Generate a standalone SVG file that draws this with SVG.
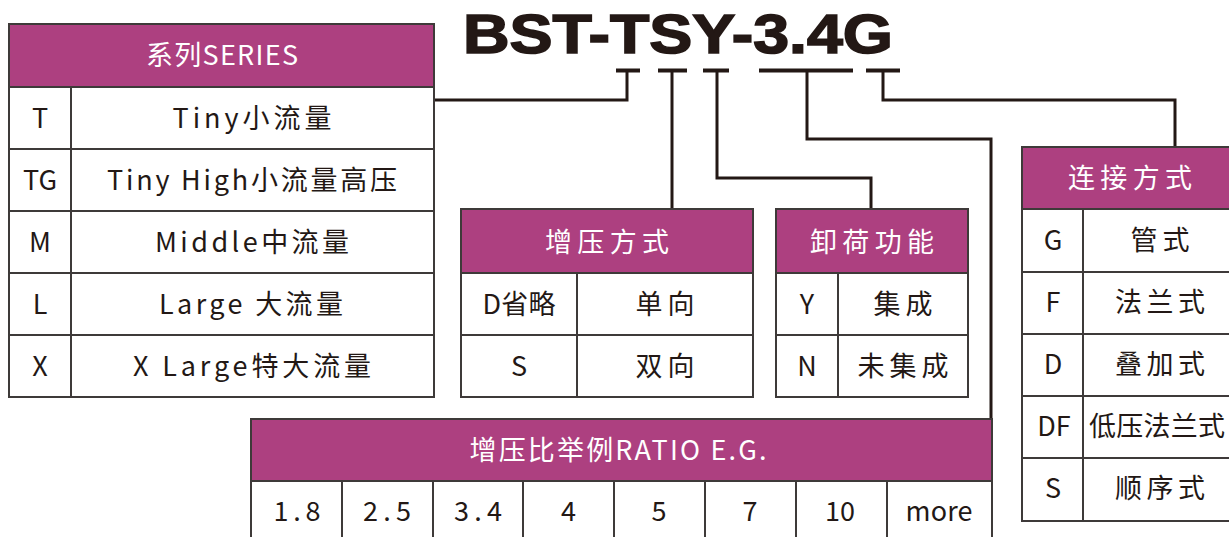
<svg xmlns="http://www.w3.org/2000/svg" width="1229" height="537" viewBox="0 0 1229 537">
<style>
.hd{fill:#ad4080;stroke:#3e3a39;stroke-width:2}
.bd{fill:#ffffff;stroke:#3e3a39;stroke-width:2}
.ln{stroke:#3e3a39;stroke-width:2;fill:none}
.cn{stroke:#231815;stroke-width:3;fill:none;stroke-linejoin:miter;stroke-linecap:butt}
.tk{fill:#231815}
text{font-family:"Noto Sans CJK SC",sans-serif;text-anchor:middle}
.ht{fill:#ffffff;font-size:27px}
.bt{fill:#231815;font-size:27px}
.title{font-family:"Liberation Sans",Arial,sans-serif;font-weight:bold;font-size:56px;fill:#231815;stroke:#231815;stroke-width:1.6;text-anchor:start}
</style>
<rect x="0" y="0" width="1229" height="537" fill="#ffffff"/>
<text class="title" x="463" y="53" textLength="430" lengthAdjust="spacingAndGlyphs">BST-TSY-3.4G</text>

<g id="connectors">
<rect class="tk" x="616" y="68.5" width="24" height="4"/>
<rect class="tk" x="658" y="68.5" width="29" height="4"/>
<rect class="tk" x="703" y="68.5" width="26" height="4"/>
<rect class="tk" x="759" y="68.5" width="94" height="4"/>
<rect class="tk" x="866" y="68.5" width="34" height="4"/>
<path class="cn" d="M627,71 V100 H434"/>
<path class="cn" d="M672,71 V209"/>
<path class="cn" d="M717,71 V178 H871 V209"/>
<path class="cn" d="M807,71 V139 H991 V419"/>
<path class="cn" d="M883,71 V100 H1175 V147"/>
</g>

<g id="series">
<rect class="hd" x="9" y="24" width="425" height="63"/>
<rect class="bd" x="9" y="87" width="425" height="310"/>
<path class="ln" d="M9,149 H434 M9,211 H434 M9,273 H434 M9,335 H434 M71,87 V397"/>
<text class="ht" x="222" y="65" textLength="152" lengthAdjust="spacing">系列SERIES</text>
<text class="bt" x="40" y="127.5">T</text>
<text class="bt" x="252" y="127.5" textLength="159" lengthAdjust="spacing">Tiny小流量</text>
<text class="bt" x="40" y="189.5">TG</text>
<text class="bt" x="252" y="189.5" textLength="290" lengthAdjust="spacing">Tiny High小流量高压</text>
<text class="bt" x="40" y="251.5">M</text>
<text class="bt" x="252" y="251.5" textLength="194" lengthAdjust="spacing">Middle中流量</text>
<text class="bt" x="40" y="313.5">L</text>
<text class="bt" x="251" y="313.5" textLength="184" lengthAdjust="spacing">Large 大流量</text>
<text class="bt" x="40" y="375.5">X</text>
<text class="bt" x="252" y="375.5" textLength="238" lengthAdjust="spacing">X Large特大流量</text>
</g>

<g id="boost">
<rect class="hd" x="461" y="209" width="292" height="64"/>
<rect class="bd" x="461" y="273" width="292" height="124"/>
<path class="ln" d="M461,335 H753 M577,273 V397"/>
<text class="ht" x="607" y="252" textLength="124" lengthAdjust="spacing">增压方式</text>
<text class="bt" x="519" y="313.5" textLength="73" lengthAdjust="spacing">D省略</text>
<text class="bt" x="665" y="313.5" textLength="59" lengthAdjust="spacing">单向</text>
<text class="bt" x="519" y="375.5">S</text>
<text class="bt" x="665" y="375.5" textLength="59" lengthAdjust="spacing">双向</text>
</g>

<g id="unload">
<rect class="hd" x="776" y="209" width="192" height="64"/>
<rect class="bd" x="776" y="273" width="192" height="124"/>
<path class="ln" d="M776,335 H968 M838,273 V397"/>
<text class="ht" x="872" y="252" textLength="124" lengthAdjust="spacing">卸荷功能</text>
<text class="bt" x="807" y="313.5">Y</text>
<text class="bt" x="903" y="313.5" textLength="59" lengthAdjust="spacing">集成</text>
<text class="bt" x="807" y="375.5">N</text>
<text class="bt" x="903" y="375.5" textLength="91" lengthAdjust="spacing">未集成</text>
</g>

<g id="connection">
<rect class="hd" x="1022" y="147" width="216" height="62"/>
<rect class="bd" x="1022" y="209" width="216" height="312"/>
<path class="ln" d="M1022,272 H1238 M1022,334 H1238 M1022,396 H1238 M1022,458 H1238 M1083,209 V521"/>
<text class="ht" x="1130" y="188" textLength="124" lengthAdjust="spacing">连接方式</text>
<text class="bt" x="1053" y="249.5">G</text>
<text class="bt" x="1160" y="249.5" textLength="59" lengthAdjust="spacing">管式</text>
<text class="bt" x="1053" y="311.5">F</text>
<text class="bt" x="1160" y="311.5" textLength="90" lengthAdjust="spacing">法兰式</text>
<text class="bt" x="1053" y="374">D</text>
<text class="bt" x="1160" y="374" textLength="90" lengthAdjust="spacing">叠加式</text>
<text class="bt" x="1054" y="436">DF</text>
<text class="bt" x="1157" y="436" textLength="136" lengthAdjust="spacing">低压法兰式</text>
<text class="bt" x="1053" y="498">S</text>
<text class="bt" x="1160" y="498" textLength="90" lengthAdjust="spacing">顺序式</text>
</g>

<g id="ratio">
<rect class="hd" x="251" y="419" width="741" height="62"/>
<rect class="bd" x="251" y="481" width="741" height="66"/>
<path class="ln" d="M342,481 V547 M433,481 V547 M523,481 V547 M614,481 V547 M705,481 V547 M796,481 V547 M887,481 V547"/>
<text class="ht" x="618" y="460" textLength="297" lengthAdjust="spacing">增压比举例RATIO E.G.</text>
<text class="bt" x="297" y="521" textLength="47" lengthAdjust="spacing">1.8</text>
<text class="bt" x="387" y="521" textLength="48" lengthAdjust="spacing">2.5</text>
<text class="bt" x="478" y="521" textLength="48" lengthAdjust="spacing">3.4</text>
<text class="bt" x="568.5" y="521">4</text>
<text class="bt" x="659" y="521">5</text>
<text class="bt" x="750" y="521">7</text>
<text class="bt" x="840" y="521" textLength="30" lengthAdjust="spacing">10</text>
<text class="bt" x="939" y="521" textLength="67" lengthAdjust="spacing">more</text>
</g>
</svg>
